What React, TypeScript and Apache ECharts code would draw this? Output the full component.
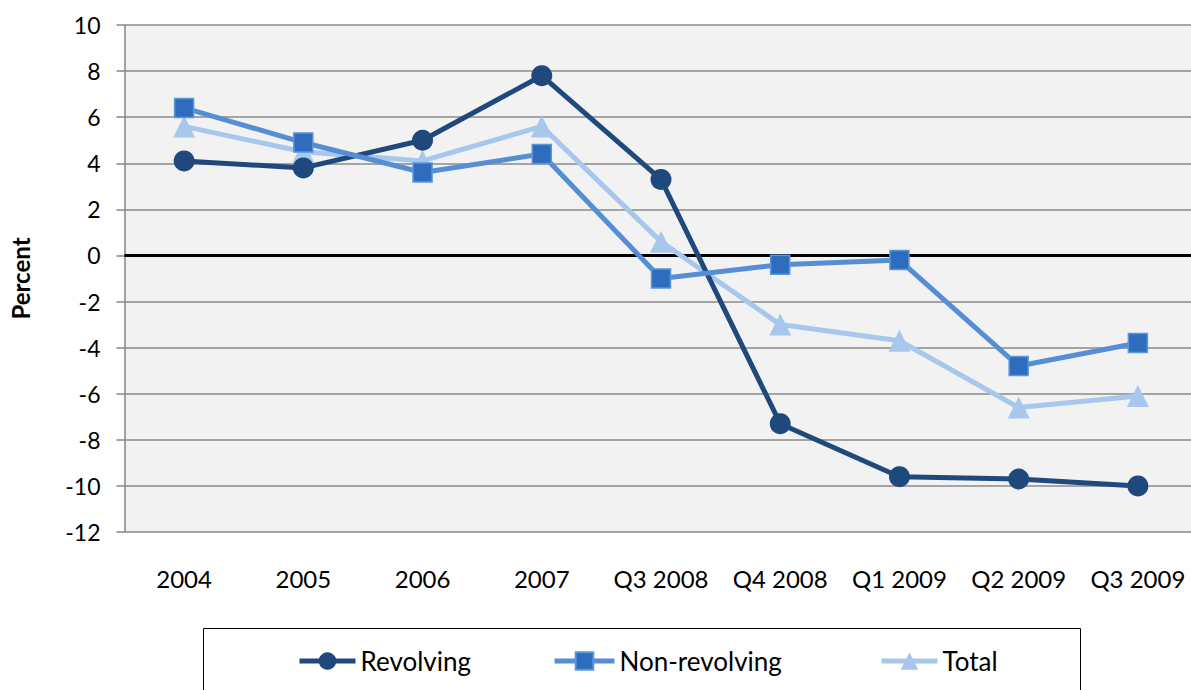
import React, { useEffect, useRef } from "react";
import * as echarts from "echarts";

const categories = ["2004", "2005", "2006", "2007", "Q3 2008", "Q4 2008", "Q1 2009", "Q2 2009", "Q3 2009"];
const revolving = [4.1, 3.8, 5.0, 7.8, 3.3, -7.3, -9.6, -9.7, -10.0];
const nonRevolving = [6.4, 4.9, 3.6, 4.4, -1.0, -0.4, -0.2, -4.8, -3.8];
const total = [5.6, 4.5, 4.1, 5.6, 0.6, -3.0, -3.7, -6.6, -6.1];

const FONT = "Lato, 'Open Sans', sans-serif";

export default function App() {
  const ref = useRef<HTMLDivElement>(null);
  useEffect(() => {
    if (!ref.current) return;
    const chart = echarts.init(ref.current, undefined, { renderer: "svg" });
    const legendText = { fontFamily: FONT, fontSize: 26, color: "#000" };
    const legendCommon = {
      top: 648,
      padding: 0,
      itemHeight: 22,
      textStyle: legendText,
      lineStyle: { width: 5 },
    };
    chart.setOption({
      animation: false,
      backgroundColor: "#fff",
      textStyle: { fontFamily: FONT },
      grid: {
        left: 124.5,
        top: 25,
        width: 1073,
        height: 507,
        show: true,
        backgroundColor: "#F2F2F2",
        borderWidth: 0,
        containLabel: false,
        outerBoundsMode: "none",
      },
      graphic: [
        {
          type: "rect",
          shape: { x: 203.5, y: 628.5, width: 877, height: 80 },
          style: { fill: "#fff", stroke: "#000", lineWidth: 1 },
          z: -1,
        },
      ],
      legend: [
        { ...legendCommon, data: ["Revolving"], left: 297, itemWidth: 56 },
        { ...legendCommon, data: ["Non-revolving"], left: 552, itemWidth: 60 },
        { ...legendCommon, data: ["Total"], left: 879, itemWidth: 56 },
      ],
      xAxis: {
        type: "category",
        data: categories,
        boundaryGap: true,
        axisLine: { show: false, onZero: false },
        axisTick: { show: false },
        axisLabel: { color: "#000", fontSize: 24, fontFamily: FONT, margin: 34, interval: 0 },
        splitLine: { show: false },
      },
      yAxis: {
        type: "value",
        min: -12,
        max: 10,
        interval: 2,
        name: "Percent",
        nameLocation: "middle",
        nameGap: 92,
        nameRotate: 90,
        nameTextStyle: { fontSize: 24, fontWeight: "bold", color: "#000", fontFamily: FONT },
        axisLine: { show: true, lineStyle: { color: "#868686", width: 1.5 } },
        axisTick: { show: true, inside: false, length: 8, lineStyle: { color: "#868686", width: 1.5 } },
        axisLabel: { color: "#000", fontSize: 23, fontFamily: FONT, margin: 24 },
        splitLine: { show: true, lineStyle: { color: "#8a8a8a", width: 1.5 } },
      },
      series: [
        {
          name: "Revolving",
          type: "line",
          data: revolving,
          symbol: "circle",
          symbolSize: 21,
          z: 3,
          lineStyle: { color: "#1F497D", width: 5 },
          itemStyle: { color: "#1F497D", borderColor: "#1F497D", borderWidth: 0 },
          markLine: {
            silent: true,
            symbol: "none",
            label: { show: false },
            lineStyle: { color: "#000", width: 3, type: "solid" },
            data: [{ yAxis: 0 }],
            z: 1,
          },
        },
        {
          name: "Non-revolving",
          type: "line",
          data: nonRevolving,
          symbol: "rect",
          symbolSize: 19,
          z: 4,
          lineStyle: { color: "#558ED5", width: 5 },
          itemStyle: { color: "#2E6DBE", borderColor: "#5B95DA", borderWidth: 1.5 },
        },
        {
          name: "Total",
          type: "line",
          data: total,
          symbol: "triangle",
          symbolSize: 22,
          z: 2,
          lineStyle: { color: "#A7C7EC", width: 5 },
          itemStyle: { color: "#A7C7EC", borderColor: "#A7C7EC", borderWidth: 0 },
        },
      ],
    });
    return () => chart.dispose();
  }, []);
  return (
    <div
      ref={ref}
      style={{ position: "fixed", left: 0, top: 0, width: 1191, height: 690, background: "#fff" }}
    />
  );
}
